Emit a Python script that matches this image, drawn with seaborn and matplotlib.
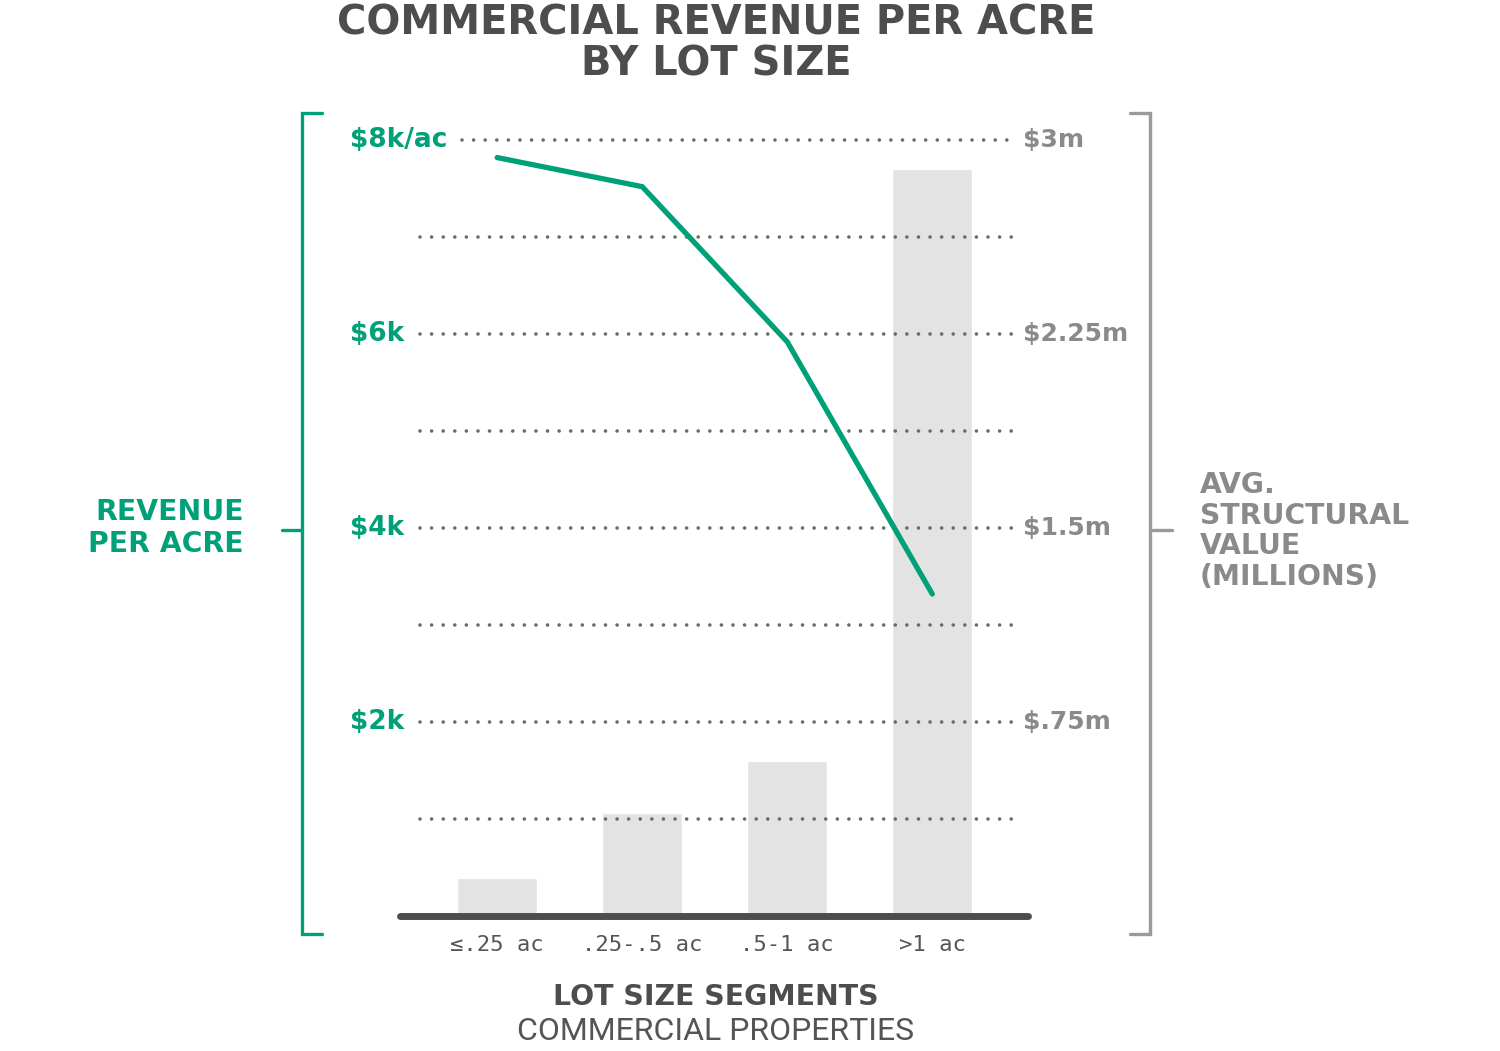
import matplotlib
matplotlib.use("Agg")
import matplotlib.pyplot as plt
import matplotlib.transforms as mtransforms
from matplotlib.lines import Line2D
import pandas as pd
import seaborn as sns

# data
segments = ["≤.25 ac", ".25-.5 ac", ".5-1 ac", ">1 ac"]
revenue_per_acre_k = [7.82, 7.52, 5.92, 3.32]        # left axis, $k per acre
structural_value_m = [0.145, 0.40, 0.60, 2.89]        # right axis, $ millions
left_ticks = [2, 4, 6, 8]
left_labels = ["$2k", "$4k", "$6k", "$8k/ac"]
right_ticks = [0.75, 1.5, 2.25, 3.0]
right_labels = ["$.75m", "$1.5m", "$2.25m", "$3m"]
grid_k = [1, 2, 3, 4, 5, 6, 7, 8]

GREEN = "#00a078"
GRAY = "#8a8a8a"
DARK = "#4d4d4d"
BAR = "#e3e3e3"
BOLD = ["DejaVu Sans"]

sns.set_theme(style="white")
plt.rcParams["font.family"] = ["DejaVu Sans"]

W, H = 1500, 1051
fig = plt.figure(figsize=(15, 10.51), dpi=100)


def fx(px):
    return px / W


def fy(py):
    return 1 - py / H


K_MAX = 8.3
ax = fig.add_axes([fx(400), fy(916), fx(1028) - fx(400), fy(111) - fy(916)])
ax.set_xlim(-0.67, 3.66)
ax.set_ylim(0, K_MAX * 0.375)

df = pd.DataFrame({"segment": segments, "value": structural_value_m,
                   "revenue": revenue_per_acre_k})
sns.barplot(data=df, x="segment", y="value", color=BAR, width=0.55,
            saturation=1, ax=ax, zorder=1)
ax.set_xlim(-0.67, 3.66)

# dotted gridlines (in $k units mapped onto the value axis)
for k in grid_k:
    x0 = -0.24 if k == 8 else -0.53
    ax.plot([x0, 3.55], [k * 0.375, k * 0.375], color="#6a6a6a", lw=2.6,
            linestyle=(0, (0.01, 3.2)), dash_capstyle="round", zorder=2)

ax2 = ax.twinx()
ax2.set_ylim(0, K_MAX)
sns.lineplot(data=df, x="segment", y="revenue", color=GREEN, lw=3.8,
             ax=ax2, zorder=3, solid_capstyle="round", solid_joinstyle="miter")
ax2.set_xlim(-0.67, 3.66)

for a in (ax, ax2):
    a.set_xlabel("")
    a.set_ylabel("")
    a.set_yticks([])
    for s in a.spines.values():
        s.set_visible(False)
    a.patch.set_visible(False)

ax.axhline(0, color=DARK, lw=5, zorder=4, clip_on=False)
ax.tick_params(axis="x", length=0, pad=14)
ax.set_xticks(range(len(segments)))
ax.set_xticklabels(segments, family="DejaVu Sans Mono", fontsize=16, color="#555555")

# axis value labels
tl = mtransforms.blended_transform_factory(fig.transFigure, ax2.transData)
for v, lab in zip(left_ticks, left_labels):
    fig.text(fx(350), v, lab, transform=tl, ha="left", va="center",
             fontsize=19, fontweight="bold", color=GREEN, family=BOLD)
tr = mtransforms.blended_transform_factory(fig.transFigure, ax.transData)
for v, lab in zip(right_ticks, right_labels):
    fig.text(fx(1023), v, lab, transform=tr, ha="left", va="center",
             fontsize=18, fontweight="bold", color=GRAY, family=BOLD)

# brackets
lw_b = 2.4
for xs, ys, c in [
    ([322, 302, 302, 322], [113, 113, 934, 934], GREEN),
    ([282, 302], [530, 530], GREEN),
    ([1130, 1150, 1150, 1130], [113, 113, 934, 934], "#9a9a9a"),
    ([1150, 1172], [530, 530], "#9a9a9a"),
]:
    fig.add_artist(Line2D([fx(x) for x in xs], [fy(y) for y in ys],
                          color=c, lw=lw_b, transform=fig.transFigure,
                          solid_joinstyle="miter"))

fig.text(fx(244), fy(528), "REVENUE\nPER ACRE", ha="right", va="center",
         fontsize=20.3, fontweight="bold", color=GREEN, family=BOLD,
         linespacing=1.2)
fig.text(fx(1200), fy(531), "AVG.\nSTRUCTURAL\nVALUE\n(MILLIONS)", ha="left",
         va="center", fontsize=20.3, fontweight="bold", color=GRAY, family=BOLD,
         linespacing=1.12)

# titles
fig.text(fx(716), fy(44), "COMMERCIAL REVENUE PER ACRE\nBY LOT SIZE", ha="center",
         va="center", fontsize=28.8, fontweight="bold", color=DARK, family=BOLD,
         linespacing=1.05)
fig.text(fx(716), fy(997), "LOT SIZE SEGMENTS", ha="center", va="center",
         fontsize=20.4, fontweight="bold", color=DARK, family=BOLD)
fig.text(fx(716), fy(1032), "COMMERCIAL PROPERTIES", ha="center", va="center",
         fontsize=23, color="#555555", family=["Roboto", "DejaVu Sans"])

fig.savefig("out.png", dpi=100, facecolor="white")
